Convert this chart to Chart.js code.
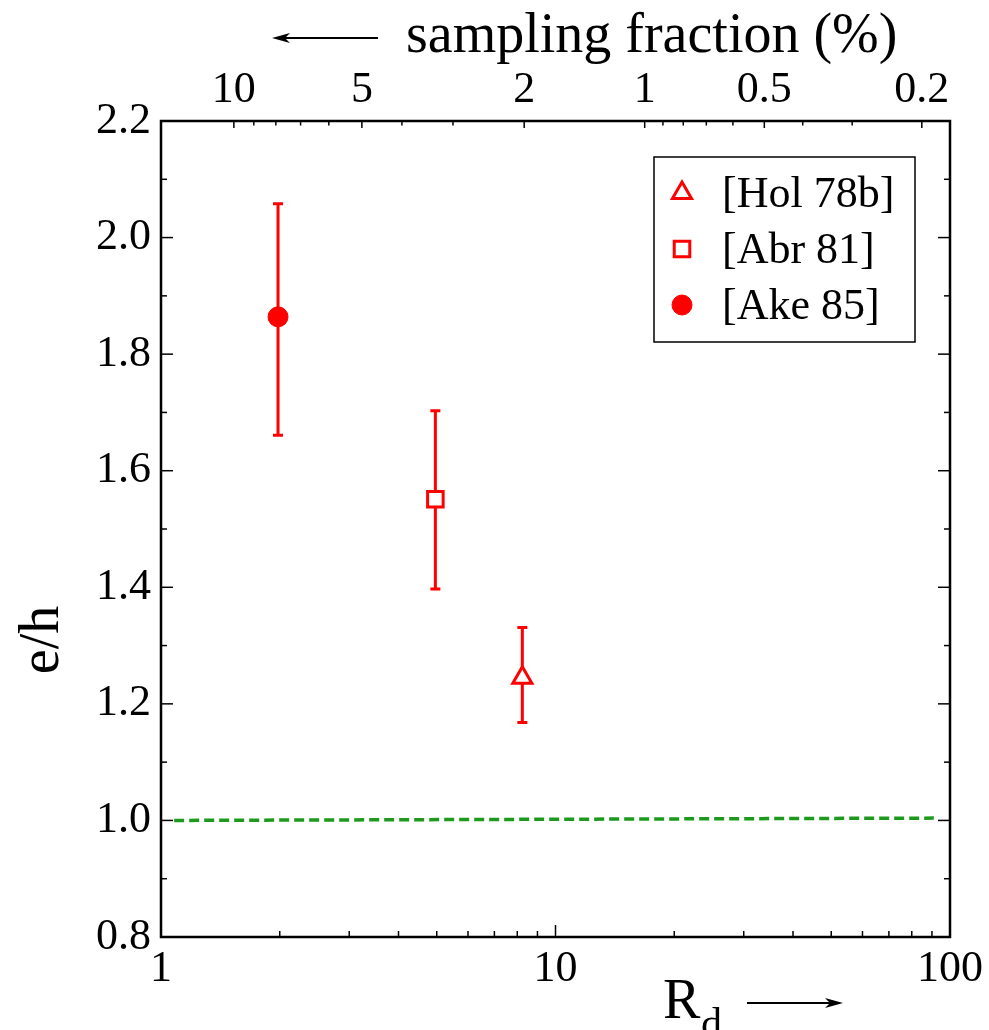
<!DOCTYPE html>
<html>
<head>
<meta charset="utf-8">
<script src="https://cdn.jsdelivr.net/npm/chart.js@4/dist/chart.umd.min.js"></script>
<style>
  body { margin: 0; background: #fff; }
  #wrap { width: 989px; height: 1030px; }
</style>
</head>
<body>
<div id="wrap"><canvas id="chart" width="989" height="1030"></canvas></div>
<script>
// data
const refs = ["[Hol 78b]", "[Abr 81]", "[Ake 85]"];
const markers = ["triangle", "rect", "circle"];
const rd = [8.24, 4.96, 1.98];
const eh = [1.245, 1.551, 1.864];
const ehLow = [1.168, 1.397, 1.661];
const ehHigh = [1.331, 1.703, 2.058];

// e/h = 1 reference line
const refLineX = [1.08, 91];
const refLineY = [1.0, 1.004];

// axis ticks
const rdTicks = [1, 2, 3, 4, 5, 6, 7, 8, 9, 10, 20, 30, 40, 50, 60, 70, 80, 90, 100];
const rdLabels = [1, 10, 100];
const yTicks = [0.8, 0.9, 1.0, 1.1, 1.2, 1.3, 1.4, 1.5, 1.6, 1.7, 1.8, 1.9, 2.0, 2.1, 2.2];
const yLabels = [0.8, 1.0, 1.2, 1.4, 1.6, 1.8, 2.0, 2.2];
const fracTicks = [10, 9, 8, 7, 6, 5, 4, 3, 2, 1, 0.9, 0.8, 0.7, 0.6, 0.5, 0.4, 0.3, 0.2];
const fracLabels = [10, 5, 2, 1, 0.5, 0.2];

// sampling fraction (%) -> R_d, fitted to the top axis
const rdOfFrac = f => 0.17 * (100 / f - 1);

const FONT = '"Liberation Serif", "Times New Roman", serif';
const RED = "#ff0000";

function near(a, b) { return Math.abs(a - b) < 1e-6; }

const errorBars = {
  id: "errorBars",
  beforeDatasetsDraw(chart) {
    const { ctx, scales } = chart;
    ctx.save();
    ctx.strokeStyle = RED;
    ctx.lineWidth = 3;
    rd.forEach((r, i) => {
      const x = scales.x.getPixelForValue(r);
      const y1 = scales.y.getPixelForValue(ehLow[i]);
      const y2 = scales.y.getPixelForValue(ehHigh[i]);
      ctx.beginPath();
      ctx.moveTo(x, y1); ctx.lineTo(x, y2);
      ctx.moveTo(x - 5, y1); ctx.lineTo(x + 5, y1);
      ctx.moveTo(x - 5, y2); ctx.lineTo(x + 5, y2);
      ctx.stroke();
    });
    ctx.restore();
  }
};

const frame = {
  id: "frame",
  afterDraw(chart) {
    const { ctx, chartArea: a, scales } = chart;
    ctx.save();
    ctx.strokeStyle = "#000";
    ctx.lineWidth = 1.5;
    const tick = (x1, y1, x2, y2) => { ctx.beginPath(); ctx.moveTo(x1, y1); ctx.lineTo(x2, y2); ctx.stroke(); };
    // bottom ticks (R_d)
    scales.x.ticks.forEach(t => {
      const px = scales.x.getPixelForValue(t.value);
      const len = rdLabels.some(v => near(v, t.value)) ? 12 : 6;
      tick(px, a.bottom, px, a.bottom - len);
    });
    // top ticks (sampling fraction)
    fracTicks.forEach(f => {
      const px = scales.x2.getPixelForValue(rdOfFrac(f));
      const len = fracLabels.includes(f) ? 7 : 4.5;
      tick(px, a.top, px, a.top + len);
    });
    // left and right ticks
    yTicks.forEach(v => {
      const py = scales.y.getPixelForValue(v);
      const len = yLabels.some(l => near(l, v)) ? 12 : 6;
      tick(a.left, py, a.left + len, py);
      tick(a.right, py, a.right - len, py);
    });
    ctx.lineWidth = 2.5;
    ctx.strokeRect(a.left, a.top, a.right - a.left, a.bottom - a.top);

    // axis titles
    ctx.fillStyle = "#000";
    ctx.textBaseline = "alphabetic";
    ctx.textAlign = "left";
    ctx.font = "56px " + FONT;
    ctx.fillText("sampling fraction (%)", 406, 52);
    ctx.font = "56px " + FONT;
    ctx.fillText("R", 663, 1018);
    ctx.font = "42px " + FONT;
    ctx.fillText("d", 701, 1037);
    ctx.save();
    ctx.font = "56px " + FONT;
    ctx.translate(58, 640);
    ctx.rotate(-Math.PI / 2);
    ctx.textAlign = "center";
    ctx.fillText("e/h", 0, 0);
    ctx.restore();

    // arrows
    ctx.lineWidth = 2;
    const arrow = (x1, x2, y) => {
      const dir = Math.sign(x2 - x1);
      ctx.beginPath(); ctx.moveTo(x1, y); ctx.lineTo(x2 - dir * 10, y); ctx.stroke();
      ctx.beginPath();
      ctx.moveTo(x2, y);
      ctx.lineTo(x2 - dir * 18, y - 5);
      ctx.lineTo(x2 - dir * 13, y);
      ctx.lineTo(x2 - dir * 18, y + 5);
      ctx.closePath(); ctx.fill();
    };
    arrow(378, 272, 38);
    arrow(747, 843, 1003);

    // legend
    const lx = 654, ly = 157, lw = 261, lh = 185;
    ctx.lineWidth = 1.5;
    ctx.strokeRect(lx, ly, lw, lh);
    ctx.font = "44px " + FONT;
    ctx.textBaseline = "middle";
    ctx.textAlign = "left";
    const rows = [193, 249, 305];
    rows.forEach((ry, i) => {
      const ds = chart.data.datasets[i];
      ctx.save();
      ctx.strokeStyle = RED;
      ctx.fillStyle = ds.backgroundColor;
      ctx.lineWidth = ds.borderWidth;
      Chart.helpers.drawPoint(ctx, { pointStyle: ds.pointStyle, radius: ds.pointRadius, borderWidth: ds.borderWidth, rotation: 0 }, 682, ry);
      ctx.restore();
      ctx.fillStyle = "#000";
      ctx.fillText(refs[i], 722, ry + 2);
    });
    ctx.restore();
  }
};

const pointDatasets = refs.map((name, i) => ({
  type: "scatter",
  label: name,
  data: [{ x: rd[i], y: eh[i] }],
  pointStyle: markers[i],
  pointRadius: markers[i] === "circle" ? 10 : 11,
  pointHoverRadius: markers[i] === "circle" ? 10 : 11,
  borderColor: RED,
  backgroundColor: markers[i] === "circle" ? RED : "#ffffff",
  borderWidth: markers[i] === "circle" ? 1 : 3
}));

new Chart(document.getElementById("chart"), {
  type: "scatter",
  data: {
    datasets: [
      ...pointDatasets,
      {
        type: "line",
        label: "e/h = 1",
        data: refLineX.map((x, i) => ({ x, y: refLineY[i] })),
        borderColor: "#1d9a1d",
        borderWidth: 3.5,
        borderDash: [10, 5],
        pointRadius: 0,
        fill: false
      }
    ]
  },
  options: {
    responsive: false,
    devicePixelRatio: 1,
    animation: false,
    layout: { padding: { left: 0, right: 37, top: 0, bottom: 0 } },
    plugins: { legend: { display: false }, tooltip: { enabled: false } },
    scales: {
      x: {
        type: "logarithmic",
        position: "bottom",
        min: 1,
        max: 100,
        grid: { display: false, drawTicks: false },
        border: { display: false },
        afterBuildTicks: s => { s.ticks = rdTicks.map(v => ({ value: v })); },
        afterFit: s => { s.height = 93; },
        ticks: {
          autoSkip: false,
          maxRotation: 0,
          padding: 6,
          color: "#000",
          font: { family: FONT, size: 44 },
          callback: v => (rdLabels.some(l => near(l, v)) ? String(v) : "")
        }
      },
      x2: {
        type: "logarithmic",
        position: "top",
        min: 1,
        max: 100,
        grid: { display: false, drawTicks: false },
        border: { display: false },
        afterBuildTicks: s => { s.ticks = fracLabels.map(f => ({ value: rdOfFrac(f) })); },
        afterFit: s => { s.height = 121; },
        ticks: {
          autoSkip: false,
          maxRotation: 0,
          padding: 4,
          color: "#000",
          font: { family: FONT, size: 44 },
          callback: (v, i) => String(fracLabels[i])
        }
      },
      y: {
        type: "linear",
        min: 0.8,
        max: 2.2,
        grid: { display: false, drawTicks: false },
        border: { display: false },
        afterBuildTicks: s => { s.ticks = yLabels.map(v => ({ value: v })); },
        afterFit: s => { s.width = 161; },
        ticks: {
          padding: 10,
          color: "#000",
          font: { family: FONT, size: 44 },
          callback: v => v.toFixed(1)
        }
      }
    }
  },
  plugins: [errorBars, frame]
});
</script>
</body>
</html>
